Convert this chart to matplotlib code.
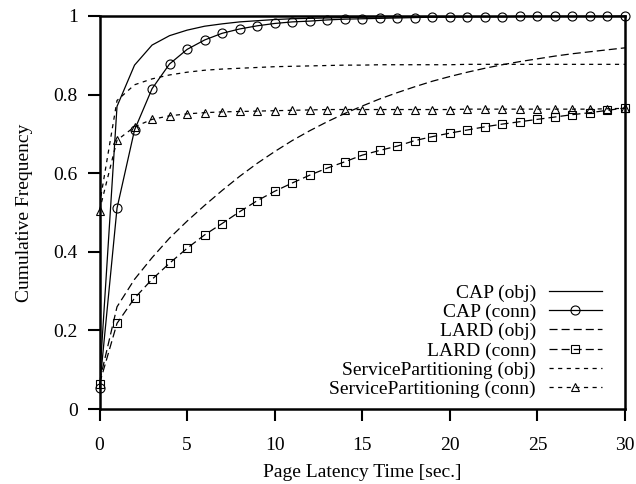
import matplotlib
matplotlib.use("Agg")
import matplotlib.pyplot as plt
import numpy as np

plt.rcParams.update({
    "font.family": ["Liberation Serif", "DejaVu Serif"],
    "font.size": 14,
    "lines.scale_dashes": False,
})

# page latency (sec.), one sample per second
t = np.arange(0, 31)

cap_obj = [0.07, 0.77, 0.875, 0.926, 0.950, 0.964, 0.974, 0.980, 0.985, 0.988,
           0.991, 0.993, 0.994, 0.995, 0.996, 0.997, 0.998, 0.998, 0.999, 0.999,
           0.999, 0.999, 0.999, 0.999, 1.0, 1.0, 1.0, 1.0, 1.0, 1.0, 1.0]
cap_conn = [0.053, 0.511, 0.71, 0.815, 0.878, 0.915, 0.939, 0.956, 0.967, 0.975,
            0.981, 0.985, 0.987, 0.990, 0.992, 0.993, 0.994, 0.995, 0.996, 0.997,
            0.997, 0.998, 0.998, 0.998, 0.999, 0.999, 0.999, 0.999, 0.999, 0.999, 1.0]
lard_obj = [0.07, 0.26, 0.33, 0.385, 0.435, 0.478, 0.518, 0.556, 0.592, 0.625,
            0.655, 0.683, 0.708, 0.731, 0.752, 0.771, 0.789, 0.805, 0.82, 0.834,
            0.846, 0.857, 0.867, 0.876, 0.884, 0.891, 0.898, 0.904, 0.909, 0.914, 0.919]
lard_conn = [0.064, 0.218, 0.282, 0.33, 0.371, 0.409, 0.443, 0.472, 0.502, 0.53,
             0.554, 0.575, 0.595, 0.613, 0.629, 0.646, 0.658, 0.669, 0.683, 0.693,
             0.702, 0.71, 0.718, 0.725, 0.731, 0.737, 0.743, 0.749, 0.754, 0.760, 0.766]
sp_obj = [0.52, 0.785, 0.825, 0.84, 0.85, 0.857, 0.862, 0.865, 0.867, 0.869,
          0.871, 0.872, 0.873, 0.874, 0.875, 0.875, 0.876, 0.876, 0.876, 0.876,
          0.876, 0.877, 0.877, 0.877, 0.877, 0.877, 0.877, 0.877, 0.877, 0.877, 0.877]
sp_conn = [0.505, 0.684, 0.718, 0.737, 0.746, 0.751, 0.754, 0.756, 0.757, 0.758,
           0.759, 0.760, 0.761, 0.762, 0.762, 0.762, 0.762, 0.762, 0.762, 0.762,
           0.762, 0.763, 0.763, 0.763, 0.763, 0.763, 0.763, 0.763, 0.763, 0.764, 0.765]

LONG = (0, (5.8, 2.9))
SHORT = (0, (3.0, 3.2))

fig = plt.figure(figsize=(6.36, 4.84), dpi=100)
ax = fig.add_axes([99.5 / 636, 75 / 484, 525.5 / 636, 393 / 484])

lw = 0.9
mk = dict(mfc="none", mec="black", mew=0.8, clip_on=False)
ax.plot(t, cap_obj, color="black", lw=lw, label="CAP (obj)")
ax.plot(t, cap_conn, color="black", lw=lw, marker="o", ms=6.5, label="CAP (conn)", **mk)
ax.plot(t, lard_obj, color="black", lw=lw, ls=LONG, label="LARD (obj)")
ax.plot(t, lard_conn, color="black", lw=lw, ls=LONG, marker="s", ms=6, label="LARD (conn)", **mk)
ax.plot(t, sp_obj, color="black", lw=lw, ls=SHORT, label="ServicePartitioning (obj)")
ax.plot(t, sp_conn, color="black", lw=lw, ls=SHORT, marker="^", ms=6, label="ServicePartitioning (conn)", **mk)

ax.set_xlim(0, 30)
ax.set_ylim(0, 1)
ax.set_xticks([0, 5, 10, 15, 20, 25, 30])
ax.set_yticks([0, 0.2, 0.4, 0.6, 0.8, 1])
ax.set_yticklabels(["0", "0.2", "0.4", "0.6", "0.8", "1"])
for s in ax.spines.values():
    s.set_linewidth(1.8)
ax.tick_params(direction="out", length=8.5, width=1.5, labelsize=14)
ax.tick_params(axis="x", pad=12)
ax.tick_params(axis="y", pad=7)

ax.set_xlabel("Page Latency Time [sec.]", fontsize=14, labelpad=7)
ax.set_ylabel("Cumulative Frequency", fontsize=14, labelpad=15)

ax.legend(loc="lower right", markerfirst=False, frameon=False, fontsize=14,
          handlelength=2.75, handletextpad=0.65, labelspacing=0.08,
          borderpad=0, borderaxespad=0,
          bbox_to_anchor=(602 / 636, (484 - 398) / 484), bbox_transform=fig.transFigure)

fig.savefig("out.png", dpi=100)
